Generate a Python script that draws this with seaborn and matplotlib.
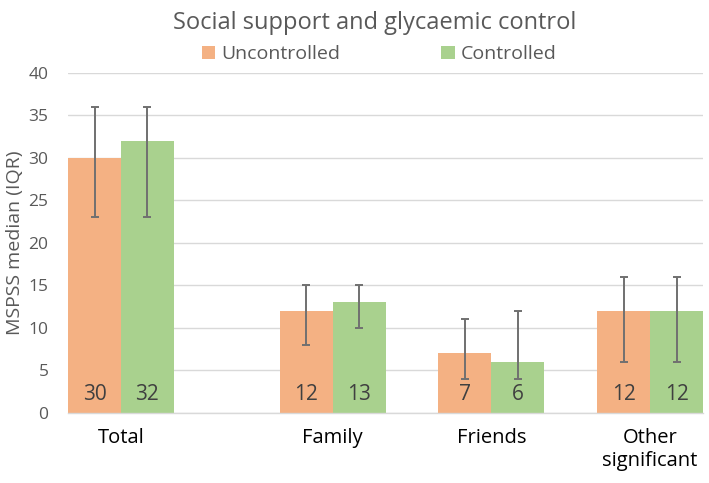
import matplotlib
matplotlib.use("Agg")
import matplotlib.pyplot as plt
import seaborn as sns
import pandas as pd
import numpy as np

categories = ["Total", "Family", "Friends", "Other\nsignificant"]
groups = ["Uncontrolled", "Controlled"]
uncontrolled = [30, 12, 7, 12]
controlled = [32, 13, 6, 12]
unc_low = [23, 8, 4, 6]
unc_high = [36, 15, 11, 16]
con_low = [23, 10, 4, 6]
con_high = [36, 15, 12, 16]
y_ticks = [0, 5, 10, 15, 20, 25, 30, 35, 40]

# layout: category centres on the x axis (Total set apart)
cat_pos = [1/3, 5/3, 8/3, 11/3]

df = pd.DataFrame({
    "pos": cat_pos * 2,
    "group": [groups[0]] * 4 + [groups[1]] * 4,
    "value": uncontrolled + controlled,
    "low": unc_low + con_low,
    "high": unc_high + con_high,
})

sns.set_theme(style="white")
plt.rcParams['font.family'] = ['Open Sans', 'DejaVu Sans']

fig = plt.figure(figsize=(7.09, 4.83), dpi=100)
ax = fig.add_axes([0.096, 0.145, 0.8955, 0.704])

palette = {"Uncontrolled": "#F4B183", "Controlled": "#A9D18E"}
sns.barplot(data=df, x="pos", y="value", hue="group", hue_order=groups,
            palette=palette, native_scale=True, width=2/3, dodge=True,
            saturation=1, errorbar=None, ax=ax, legend=True, zorder=2,
            linewidth=0, edgecolor="none")

# error bars and value labels from bar geometry
bars = [p for p in ax.patches if p.get_height() > 0]
for bar in bars:
    xc = bar.get_x() + bar.get_width() / 2
    h = bar.get_height()
    row = df[(np.isclose(df["value"], h)) & (np.abs(df["pos"] - xc) < 0.34)]
    lo, hi = row["low"].iloc[0], row["high"].iloc[0]
    ax.errorbar([xc], [h], yerr=[[h - lo], [hi - h]], fmt="none",
                ecolor="#707070", elinewidth=1.4, capsize=3, capthick=1.4, zorder=3)
    ax.annotate(f"{int(h)}", xy=(xc, 0), xytext=(0, 6), textcoords="offset points",
                ha="center", va="bottom", fontsize=15, color="#404040", zorder=4)

ax.set_xlim(0, 4)
ax.set_ylim(0, 40)
ax.set_yticks(y_ticks)
ax.set_xticks(cat_pos)
ax.set_xticklabels(categories)
ax.tick_params(axis="x", labelsize=14.5, colors="#000000", pad=11, length=0)
ax.tick_params(axis="y", labelsize=12.5, colors="#595959", pad=14, length=0)
ax.yaxis.grid(True, color="#D9D9D9", linewidth=1, zorder=0)
ax.set_axisbelow(True)
for s in ["top", "right", "left"]:
    ax.spines[s].set_visible(False)
ax.spines["bottom"].set_color("#D9D9D9")
ax.spines["bottom"].set_linewidth(1)
ax.set_xlabel("")
ax.set_ylabel("MSPSS median (IQR)", fontsize=14, color="#595959", labelpad=3)

handles, labels = ax.get_legend_handles_labels()
ax.legend(handles, labels, loc="lower center", bbox_to_anchor=(0.49, 1.0), ncol=2,
          frameon=False, fontsize=14, labelcolor="#595959", handlelength=0.7,
          handleheight=0.7, columnspacing=5.2, handletextpad=0.3, borderaxespad=0.1)

fig.suptitle("Social support and glycaemic control", x=0.528, y=0.978, va="top",
             fontsize=17, color="#595959")

fig.savefig("out.png", dpi=100)
